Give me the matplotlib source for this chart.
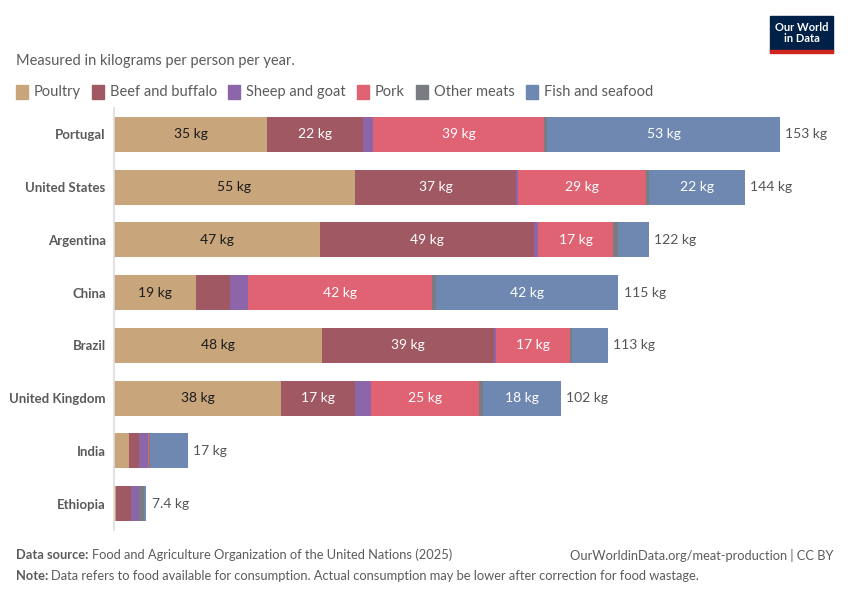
import matplotlib.pyplot as plt
from matplotlib.patches import Rectangle
import numpy as np

plt.rcParams['font.family'] = ['Lato', 'DejaVu Sans']

countries = ['Portugal', 'United States', 'Argentina', 'China', 'Brazil',
             'United Kingdom', 'India', 'Ethiopia']
categories = ['Poultry', 'Beef and buffalo', 'Sheep and goat', 'Pork',
              'Other meats', 'Fish and seafood']

poultry = [35, 55, 47, 18.8, 47.6, 38.2, 3.5, 0.45]
beef = [22, 37, 49, 7.8, 39.2, 16.9, 2.3, 3.4]
sheep = [2.3, 0.45, 1.0, 4.1, 0.6, 3.6, 2.05, 1.9]
pork = [39, 29.3, 17.1, 42.1, 16.9, 24.7, 0.25, 0.02]
other = [0.75, 0.7, 1.05, 0.85, 0.45, 1.0, 0.05, 1.15]
fish = [53.3, 21.9, 7.1, 41.7, 8.2, 17.8, 8.8, 0.5]
totals = ['153 kg', '144 kg', '122 kg', '115 kg', '113 kg', '102 kg', '17 kg', '7.4 kg']

colors = ['#C8A57B', '#A05862', '#8D66AA', '#E06374', '#797C82', '#6F88B1']
text_colors = ['#1a1a1a', 'white', 'white', 'white', 'white', 'white']

series = [poultry, beef, sheep, pork, other, fish]

fig = plt.figure(figsize=(8.5, 6), dpi=100)
ax = fig.add_axes([114 / 850, 1 - 530 / 600, (800 - 114) / 850, 422 / 600])

y = np.arange(len(countries))
left = np.zeros(len(countries))
for vals, col, tc in zip(series, colors, text_colors):
    vals = np.array(vals)
    ax.barh(y, vals, left=left, height=0.66, color=col, edgecolor='none')
    for i, v in enumerate(vals):
        if v >= 15:
            ax.text(left[i] + v / 2, y[i], f'{round(v)} kg', ha='center', va='center',
                    color=tc, fontsize=10)
    left += vals

for i, t in enumerate(totals):
    ax.text(left[i] + 1.2, y[i], t, ha='left', va='center', color='#555555', fontsize=10)

ax.set_xlim(0, (800 - 114) / 4.373)
ax.set_ylim(7.5, -0.5)
ax.set_yticks(y)
ax.set_yticklabels(countries, fontsize=9.5, fontweight='bold', color='#5a5a5a')
ax.tick_params(axis='y', length=0, pad=6)
ax.set_xticks([])
for s in ['top', 'right', 'bottom']:
    ax.spines[s].set_visible(False)
ax.spines['left'].set_color('#dddddd')
ax.spines['left'].set_linewidth(1.2)

# subtitle
fig.text(16 / 850, 1 - 61 / 600, 'Measured in kilograms per person per year.',
         fontsize=10.5, color='#5b5b5b', va='center')

# legend
fig.canvas.draw()
renderer = fig.canvas.get_renderer()
xpos = 16
ly = 92
for name, col in zip(categories, colors):
    fig.patches.append(Rectangle((xpos / 850, 1 - (ly + 7) / 600), 12 / 850, 14 / 600,
                                 transform=fig.transFigure, color=col, figure=fig))
    t = fig.text((xpos + 18) / 850, 1 - ly / 600, name, fontsize=10.5,
                 color='#5b5b5b', va='center')
    bb = t.get_window_extent(renderer)
    xpos = bb.x1 + 11

# logo
fig.patches.append(Rectangle((770 / 850, 1 - 52 / 600), 63 / 850, 36 / 600,
                             transform=fig.transFigure, color='#002147', figure=fig))
fig.patches.append(Rectangle((770 / 850, 1 - 53 / 600), 63 / 850, 3 / 600,
                             transform=fig.transFigure, color='#CE261E', figure=fig))
fig.text(801.5 / 850, 1 - 33 / 600, 'Our World\nin Data', ha='center', va='center',
         color='white', fontsize=8, fontweight='bold', linespacing=1.0)

# footer
fs = 9.3
t = fig.text(16 / 850, 1 - 555 / 600, 'Data source:', fontsize=fs, color='#5b5b5b',
             fontweight='bold', va='center')
bb = t.get_window_extent(renderer)
fig.text((bb.x1 + 3) / 850, 1 - 555 / 600,
         'Food and Agriculture Organization of the United Nations (2025)',
         fontsize=fs, color='#5b5b5b', va='center')
fig.text(833 / 850, 1 - 555 / 600, 'OurWorldinData.org/meat-production | CC BY',
         fontsize=fs, color='#5b5b5b', va='center', ha='right')
t = fig.text(16 / 850, 1 - 576 / 600, 'Note:', fontsize=fs, color='#5b5b5b',
             fontweight='bold', va='center')
bb = t.get_window_extent(renderer)
fig.text((bb.x1 + 3) / 850, 1 - 576 / 600,
         'Data refers to food available for consumption. Actual consumption may be lower '
         'after correction for food wastage.',
         fontsize=fs, color='#5b5b5b', va='center')

fig.savefig('out.png', dpi=100)
